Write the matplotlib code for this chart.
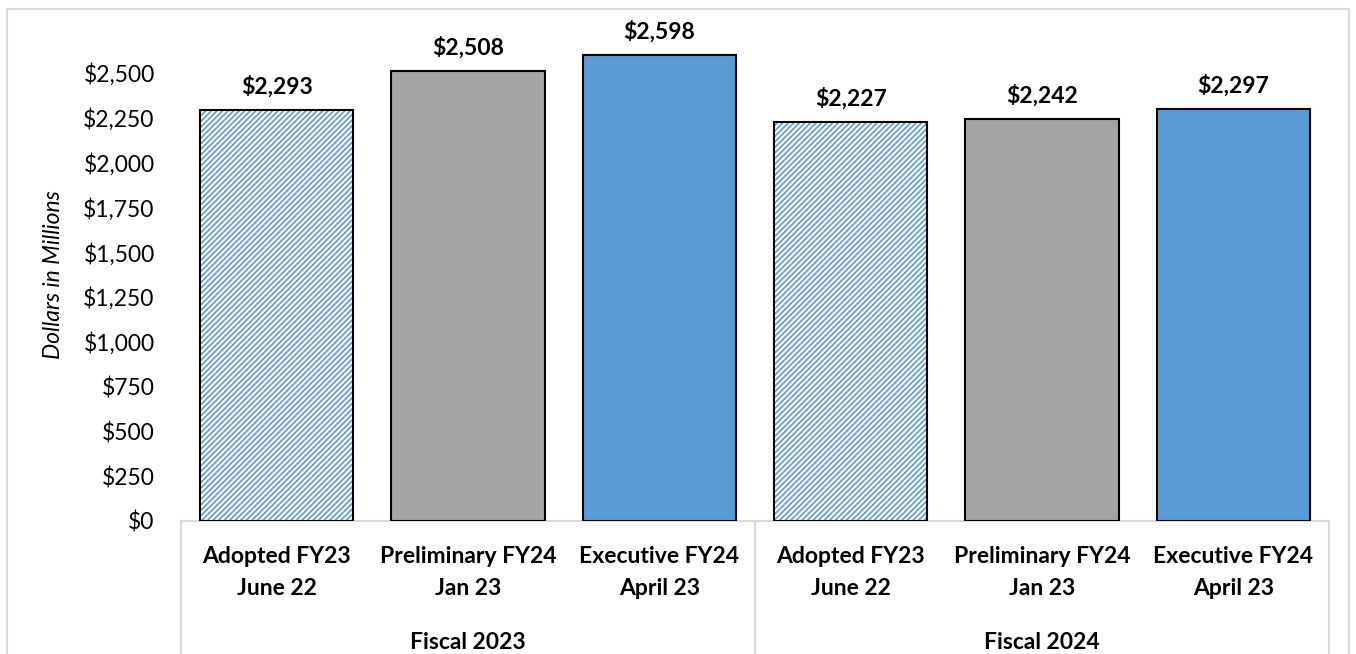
import matplotlib
matplotlib.use("Agg")
import matplotlib.pyplot as plt
from matplotlib.patches import Rectangle
from matplotlib.lines import Line2D

categories = ["Adopted FY23\nJune 22", "Preliminary FY24\nJan 23", "Executive FY24\nApril 23",
              "Adopted FY23\nJune 22", "Preliminary FY24\nJan 23", "Executive FY24\nApril 23"]
groups = ["Fiscal 2023", "Fiscal 2024"]
values = [2293, 2508, 2598, 2227, 2242, 2297]
yticks = [0, 250, 500, 750, 1000, 1250, 1500, 1750, 2000, 2250, 2500]

plt.rcParams['font.family'] = ['Lato', 'DejaVu Sans']
plt.rcParams['hatch.linewidth'] = 1.2

W, H = 1356, 654
fig = plt.figure(figsize=(W / 100, H / 100), dpi=100)
x0, x1 = 181, 1329
y0, ytop = 521, 28
ax = fig.add_axes([x0 / W, (H - y0) / H, (x1 - x0) / W, (y0 - ytop) / H])

fills = ["hatch", "#A5A5A5", "#5B9BD5"]
xs = list(range(len(values)))
for i, v in enumerate(values):
    f = fills[i % 3]
    if f == "hatch":
        ax.bar(xs[i], v, width=0.8, facecolor="white", edgecolor="#5B9BD5", hatch="//////", linewidth=0, zorder=2)
        ax.bar(xs[i], v, width=0.8, facecolor="none", edgecolor="black", linewidth=1.5, zorder=3)
    else:
        ax.bar(xs[i], v, width=0.8, facecolor=f, edgecolor="black", linewidth=1.5, zorder=3)
    ax.annotate(f"${v:,.0f}", (xs[i], v), xytext=(0, 9), textcoords="offset points",
                ha="center", va="bottom", fontsize=16.5, fontweight="bold")

ax.set_xlim(-0.5, len(values) - 0.5)
ax.set_ylim(0, 2750)
ax.set_yticks(yticks)
ax.set_yticklabels([f"${t:,.0f}" for t in yticks], fontsize=16.5)
ax.tick_params(axis="y", length=0, pad=19)
ax.set_xticks(xs)
ax.set_xticklabels(categories, fontsize=16.5, fontweight="bold", linespacing=1.62)
ax.tick_params(axis="x", length=0, pad=18)
for s in ["top", "right", "left"]:
    ax.spines[s].set_visible(False)
ax.spines["bottom"].set_color("#D9D9D9")
ax.spines["bottom"].set_linewidth(1.5)
ax.set_ylabel("Dollars in Millions", fontsize=16.5, fontstyle="italic", labelpad=14)

# group labels and separators
for gi, g in enumerate(groups):
    cx = gi * 3 + 1
    ax.text(cx, -0.246, g, transform=ax.get_xaxis_transform(), ha="center", va="center",
            fontsize=16.5, fontweight="bold")
for xv in [-0.5, 2.5, 5.5]:
    ax.add_line(Line2D([xv, xv], [0, -0.5], transform=ax.get_xaxis_transform(),
                       color="#D9D9D9", linewidth=1.5, clip_on=False))

# outer chart border
fig.patches.append(Rectangle((7 / W, -0.05), (1349 - 7) / W, (H - 9) / H + 0.05,
                             transform=fig.transFigure, fill=False, edgecolor="#D9D9D9",
                             linewidth=1.5))

fig.savefig("out.png", dpi=100)
